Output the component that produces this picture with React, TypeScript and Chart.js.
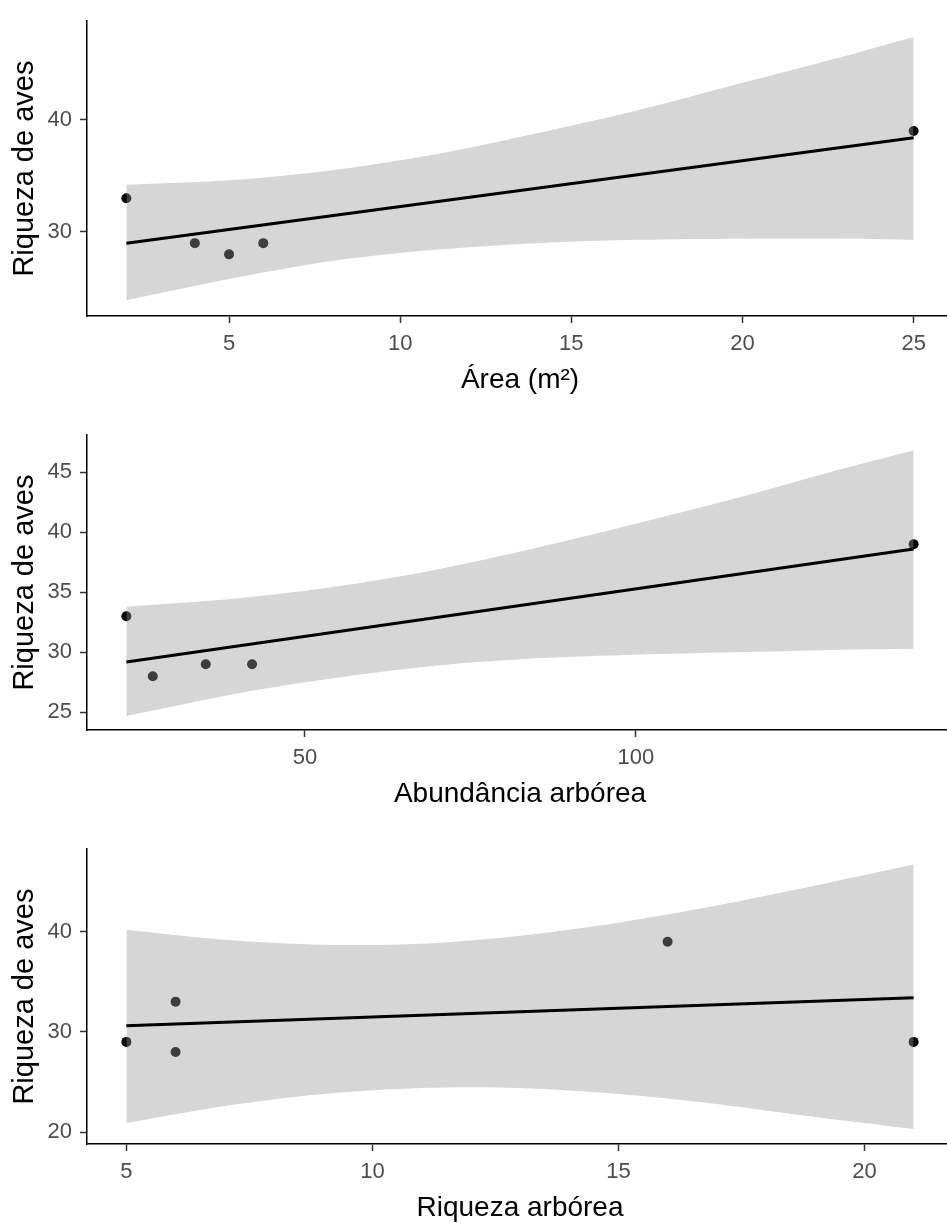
import React, { useEffect, useRef } from "react";
import { Chart, registerables } from "chart.js";

Chart.register(...registerables);

const FONT = "'Liberation Sans', Arial, sans-serif";
const yTitle = "Riqueza de aves";

// Panel 1 — Área (m²)
const areaTitle = "Área (m²)";
const areaX = [2, 4, 5, 6, 25];
const areaY = [33, 29, 28, 29, 39];
const areaFitX = [2, 25];
const areaFitY = [29.0, 38.4];
const areaBandX = [2, 5, 8, 11, 14, 17, 20, 23, 25];
const areaUpper = [34.2, 34.6, 35.5, 36.9, 38.8, 40.9, 43.3, 45.7, 47.4];
const areaLower = [23.9, 25.8, 27.4, 28.4, 29.0, 29.3, 29.4, 29.4, 29.3];
const areaXTicks = [5, 10, 15, 20, 25];
const areaYTicks = [30, 40];

// Panel 2 — Abundância arbórea
const abundTitle = "Abundância arbórea";
const abundX = [23, 27, 35, 42, 142];
const abundY = [33, 28, 29, 29, 39];
const abundFitX = [23, 142];
const abundFitY = [29.2, 38.6];
const abundBandX = [23, 40, 55, 70, 85, 100, 115, 130, 142];
const abundUpper = [33.8, 34.5, 35.5, 36.9, 38.7, 40.7, 42.8, 45.1, 46.8];
const abundLower = [24.7, 26.6, 27.9, 28.9, 29.5, 29.8, 30.0, 30.2, 30.3];
const abundXTicks = [50, 100];
const abundYTicks = [25, 30, 35, 40, 45];

// Panel 3 — Riqueza arbórea
const riqTitle = "Riqueza arbórea";
const riqX = [5, 6, 6, 16, 21];
const riqY = [29, 33, 28, 39, 29];
const riqFitX = [5, 21];
const riqFitY = [30.6, 33.4];
const riqBandX = [5, 7, 9, 11, 13, 15, 17, 19, 21];
const riqUpper = [40.2, 39.2, 38.7, 38.8, 39.6, 40.9, 42.6, 44.6, 46.7];
const riqLower = [20.9, 22.6, 23.8, 24.4, 24.4, 23.8, 22.8, 21.5, 20.3];
const riqXTicks = [5, 10, 15, 20];
const riqYTicks = [20, 30, 40];

type PanelProps = {
  top: number;
  xTitle: string;
  px: number[];
  py: number[];
  fitX: number[];
  fitY: number[];
  bandX: number[];
  upper: number[];
  lower: number[];
  xTicks: number[];
  yTicks: number[];
  xMin: number;
  xMax: number;
  yMin: number;
  yMax: number;
};

const CW = 958;
const CH = 414;

function Panel(p: PanelProps) {
  const ref = useRef<HTMLCanvasElement | null>(null);
  useEffect(() => {
    if (!ref.current) return;
    const zip = (xs: number[], ys: number[]) => xs.map((x, i) => ({ x, y: ys[i] }));
    const chart = new Chart(ref.current, {
      type: "scatter",
      data: {
        datasets: [
          {
            type: "line",
            data: zip(p.fitX, p.fitY),
            borderColor: "#000000",
            borderWidth: 3,
            pointRadius: 0,
            fill: false,
            order: 0,
          } as any,
          {
            type: "line",
            data: zip(p.bandX, p.upper),
            borderWidth: 0,
            borderColor: "rgba(0,0,0,0)",
            pointRadius: 0,
            tension: 0.3,
            backgroundColor: "rgba(153,153,153,0.4)",
            fill: "+1",
            order: 1,
          } as any,
          {
            type: "line",
            data: zip(p.bandX, p.lower),
            borderWidth: 0,
            borderColor: "rgba(0,0,0,0)",
            pointRadius: 0,
            tension: 0.3,
            fill: false,
            order: 2,
          } as any,
          {
            type: "scatter",
            data: zip(p.px, p.py),
            pointRadius: 5,
            pointBackgroundColor: "#000000",
            pointBorderWidth: 0,
            showLine: false,
            order: 3,
          } as any,
        ],
      },
      options: {
        responsive: false,
        animation: false,
        devicePixelRatio: 1,
        layout: { padding: { top: 11, right: 0, bottom: 0, left: 0 } },
        plugins: { legend: { display: false }, tooltip: { enabled: false } },
        scales: {
          x: {
            type: "linear",
            min: p.xMin,
            max: p.xMax,
            afterBuildTicks: (s: any) => {
              s.ticks = p.xTicks.map((v) => ({ value: v }));
            },
            afterFit: (s: any) => {
              s.height = CH - 316;
            },
            grid: {
              display: true,
              drawOnChartArea: false,
              drawTicks: true,
              tickLength: 7,
              tickWidth: 1.5,
              tickColor: "#333333",
            },
            border: { display: true, color: "#000000", width: 1.5 },
            ticks: {
              color: "#4D4D4D",
              font: { family: FONT, size: 22 },
              padding: 8,
              maxRotation: 0,
              autoSkip: false,
            },
            title: {
              display: true,
              text: p.xTitle,
              color: "#000000",
              font: { family: FONT, size: 28 },
              padding: { top: 0, bottom: 17 },
            },
          },
          y: {
            type: "linear",
            min: p.yMin,
            max: p.yMax,
            afterBuildTicks: (s: any) => {
              s.ticks = p.yTicks.map((v) => ({ value: v }));
            },
            afterFit: (s: any) => {
              s.width = 87;
            },
            grid: {
              display: true,
              drawOnChartArea: false,
              drawTicks: true,
              tickLength: 7,
              tickWidth: 1.5,
              tickColor: "#333333",
            },
            border: { display: true, color: "#000000", width: 1.5 },
            ticks: {
              color: "#4D4D4D",
              font: { family: FONT, size: 22 },
              padding: 8,
              autoSkip: false,
            },
            title: {
              display: true,
              text: yTitle,
              color: "#000000",
              font: { family: FONT, size: 29 },
              padding: { top: 8, bottom: 0 },
            },
          },
        },
      } as any,
    });
    return () => chart.destroy();
  }, []);
  return (
    <canvas
      ref={ref}
      width={CW}
      height={CH}
      style={{ position: "absolute", left: 0, top: p.top, display: "block" }}
    />
  );
}

export default function App() {
  return (
    <div
      style={{
        position: "absolute",
        left: 0,
        top: 0,
        width: 947,
        height: 1223,
        overflow: "hidden",
        background: "#ffffff",
      }}
    >
      <Panel
        top={0}
        xTitle={areaTitle}
        px={areaX}
        py={areaY}
        fitX={areaFitX}
        fitY={areaFitY}
        bandX={areaBandX}
        upper={areaUpper}
        lower={areaLower}
        xTicks={areaXTicks}
        yTicks={areaYTicks}
        xMin={0.85}
        xMax={26.15}
        yMin={22.5}
        yMax={48.8}
      />
      <Panel
        top={414}
        xTitle={abundTitle}
        px={abundX}
        py={abundY}
        fitX={abundFitX}
        fitY={abundFitY}
        bandX={abundBandX}
        upper={abundUpper}
        lower={abundLower}
        xTicks={abundXTicks}
        yTicks={abundYTicks}
        xMin={17.05}
        xMax={147.95}
        yMin={23.53}
        yMax={48.08}
      />
      <Panel
        top={828}
        xTitle={riqTitle}
        px={riqX}
        py={riqY}
        fitX={riqFitX}
        fitY={riqFitY}
        bandX={riqBandX}
        upper={riqUpper}
        lower={riqLower}
        xTicks={riqXTicks}
        yTicks={riqYTicks}
        xMin={4.2}
        xMax={21.8}
        yMin={18.81}
        yMax={48.23}
      />
    </div>
  );
}
